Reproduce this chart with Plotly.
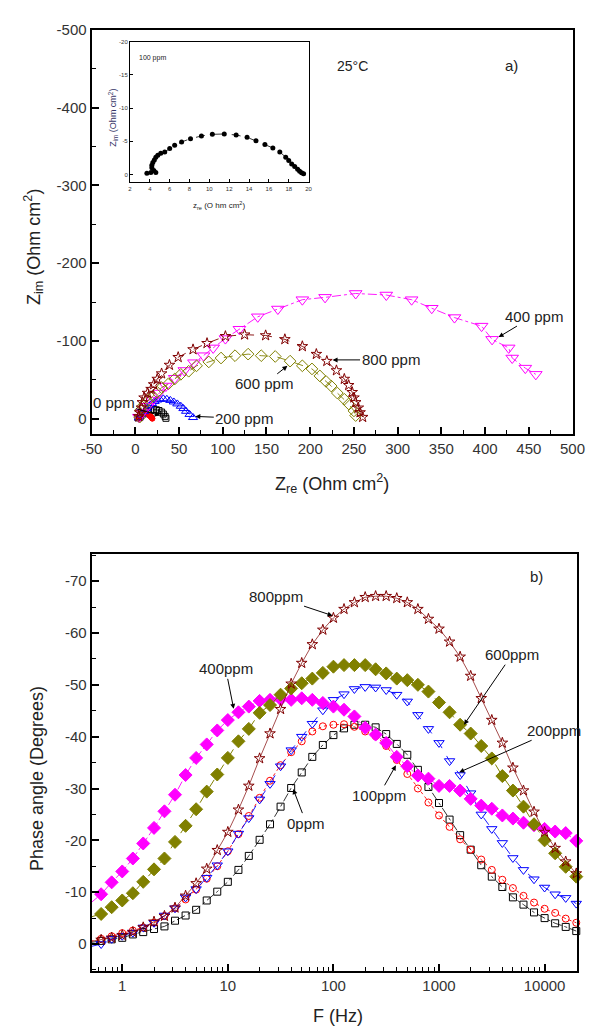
import plotly.graph_objects as go

W, H = 598, 1028

# ---------------- Top chart (Nyquist) data ----------------
ppm0_re = [3, 6, 9, 12, 15, 18, 21, 24, 27, 30, 32, 34, 35]
ppm0_im = [-1, -4, -6.5, -8.5, -10, -11, -11.5, -11.5, -10.5, -8.5, -6, -3, -0.5]

ppm100_re = [3.7, 4.1, 4.6, 4.4, 4.2, 4.2, 4.3, 4.45, 4.6, 4.8, 5.1, 5.5, 6.0, 6.5, 7.2, 8.1,
             9.2, 10.3, 11.5, 12.7, 13.8, 14.7, 15.6, 16.4, 17.1, 17.7, 18.0, 18.3, 18.6,
             18.9, 19.1, 19.3, 19.5]
ppm100_im = [-0.2, -0.3, -0.3, -0.6, -1.0, -1.4, -1.8, -2.2, -2.6, -2.9, -3.2, -3.4, -3.9, -4.4,
             -4.9, -5.4, -5.8, -6.05, -6.1, -5.95, -5.6, -5.1, -4.5, -4.0, -3.4, -2.6, -2.1,
             -1.6, -1.2, -0.8, -0.5, -0.25, -0.1]

ppm200_re = [4, 7, 10, 13, 16, 19, 22, 25, 28, 32, 36, 40, 44, 48, 52, 55, 58, 62, 66]
ppm200_im = [-1, -5, -9, -13, -16.5, -19.5, -22, -24, -25, -25.5, -25, -23.5, -21.5, -19, -16,
             -13, -9.5, -5.5, -1.5]

ppm400_re = [4, 8, 14, 20, 27, 35, 45, 56, 67, 78, 89, 103, 119, 140, 163, 191, 217, 252, 287,
             316, 339, 365, 396, 408, 427, 431, 446, 458]
ppm400_im = [-2, -8, -16, -24, -33, -42, -52, -62, -72, -81, -91, -103, -115, -131, -141, -153,
             -156, -161, -159, -153, -142, -130, -119, -102, -91, -78, -65, -57]

ppm600_re = [5, 6, 9, 14, 20, 25, 30, 38, 45, 52, 61, 70, 84, 98, 114, 129, 144, 160, 177, 191,
             202, 211, 218, 224, 231, 239, 244, 250, 252]
ppm600_im = [-2, -11, -17, -23, -29, -34, -40, -45, -51, -57, -61, -68, -73, -78, -81, -83, -81,
             -80, -74, -68, -64, -55, -48, -42, -33, -25, -19, -10, -4]

ppm800_re = [4, 5, 7, 8, 10, 14, 18, 21, 25, 30, 39, 49, 66, 82, 103, 125, 149, 171, 191, 207,
             219, 230, 239, 244, 248, 250, 252, 255, 257, 260]
ppm800_im = [-3, -8, -14, -21, -27, -33, -38, -44, -51, -58, -69, -79, -89, -97, -106, -108,
             -107, -102, -93, -83, -74, -62, -51, -43, -34, -27, -21, -14, -8, -2]

# tick labels (hyphen minus, as in the reference)
top_x_ticks = [-50, 0, 50, 100, 150, 200, 250, 300, 350, 400, 450, 500]
top_y_ticks = [0, -100, -200, -300, -400, -500]
inset_x_ticks = [2, 4, 6, 8, 10, 12, 14, 16, 18, 20]
inset_y_ticks = [0, -5, -10, -15, -20]

# ---------------- Bottom chart (Bode phase) data ----------------
freq = [0.501, 0.631, 0.794, 1.0, 1.26, 1.58, 2.0, 2.51, 3.16, 3.98, 5.01, 6.31, 7.94, 10.0,
        12.6, 15.8, 20.0, 25.1, 31.6, 39.8, 50.1, 63.1, 79.4, 100.0, 126, 158, 200, 251, 316,
        398, 501, 631, 794, 1000, 1259, 1585, 1995, 2512, 3162, 3981, 5012, 6310, 7943, 10000,
        12589, 15849, 19953]

ph0 = [-0.3, -0.6, -0.9, -1.2, -1.85, -2.3, -2.9, -3.4, -4.5, -5.5, -6.6, -8.4, -10.1, -12.0,
       -14.3, -17.0, -20.1, -23.1, -26.5, -30.1, -33.1, -36.1, -38.4, -40.3, -41.6, -42.3,
       -42.3, -41.8, -40.5, -38.6, -36.5, -33.6, -30.3, -27.2, -24.0, -21.0, -18.2, -15.2,
       -13.0, -11.0, -9.0, -7.6, -6.1, -5.0, -4.0, -3.3, -2.5]
ph100 = [-0.5, -1.0, -1.5, -2.1, -2.6, -3.2, -4.1, -5.4, -6.9, -8.6, -10.5, -12.6, -15.0, -17.9,
         -21.2, -24.7, -28.2, -31.5, -34.5, -37.0, -39.1, -41.0, -42.0, -42.3, -42.4, -41.9,
         -41.0, -40.1, -38.2, -35.5, -32.8, -30.0, -27.3, -24.8, -22.6, -20.2, -18.2, -16.3,
         -14.3, -12.4, -10.8, -9.3, -8.0, -6.8, -6.0, -4.9, -4.1]
ph200 = [0.5, 0.0, -1.0, -1.6, -2.2, -3.2, -4.1, -5.5, -6.9, -9.0, -10.6, -12.8, -15.2, -17.9,
         -21.3, -24.3, -27.9, -30.9, -34.3, -37.4, -40.0, -42.5, -45.1, -47.1, -48.2, -49.2,
         -49.6, -49.5, -49.0, -48.1, -46.8, -44.2, -41.5, -38.8, -35.3, -32.6, -29.1, -25.0,
         -22.2, -19.5, -16.6, -14.3, -12.5, -10.9, -9.6, -8.9, -7.8]
ph400 = [-7.9, -9.6, -11.9, -14.0, -16.5, -19.4, -22.4, -25.6, -28.8, -32.6, -35.9, -38.5,
         -41.2, -43.2, -44.7, -45.8, -46.9, -47.1, -47.2, -47.1, -47.4, -47.1, -46.5, -45.8,
         -45.2, -43.9, -41.7, -40.4, -38.8, -36.1, -34.3, -32.5, -31.9, -30.5, -30.5, -29.6,
         -28.0, -26.7, -26.1, -24.8, -24.2, -23.4, -22.9, -22.2, -21.7, -21.4, -19.9]
ph600 = [-5.2, -5.8, -7.1, -8.4, -9.8, -12.0, -14.4, -16.5, -19.7, -22.8, -26.0, -29.4, -32.7,
         -35.9, -39.1, -41.5, -44.6, -46.1, -48.1, -49.3, -50.3, -51.2, -52.3, -53.5, -53.8,
         -53.8, -53.8, -53.0, -52.2, -51.2, -50.9, -50.0, -48.7, -46.6, -44.7, -42.3, -40.6,
         -38.2, -35.8, -32.4, -29.6, -26.5, -23.1, -20.0, -17.5, -14.9, -13.0]
ph800 = [-0.5, -0.8, -1.2, -1.7, -2.3, -3.2, -4.3, -5.4, -7.0, -9.3, -11.7, -14.5, -18.1, -21.6,
         -25.9, -30.5, -35.8, -40.6, -45.3, -50.2, -54.2, -57.8, -60.6, -62.9, -64.6, -65.9,
         -66.9, -67.1, -67.1, -66.7, -65.9, -64.6, -62.7, -60.8, -58.3, -55.4, -51.7, -47.4,
         -43.2, -38.8, -34.0, -29.6, -25.5, -21.6, -18.5, -15.9, -13.6]

bot_x_ticks = [1, 10, 100, 1000, 10000]
bot_y_ticks = [0, -10, -20, -30, -40, -50, -60, -70]

# ---------------- colours ----------------
C0, C100, C200 = "#000000", "#FF0000", "#0000FF"
C400, C600, C800 = "#FF00FF", "#808000", "#800000"

FONT = "Liberation Sans, Arial, sans-serif"
TICKC = "#333333"

fig = go.Figure()


def px_x(p):
    return p / W


def px_y(p):
    return 1 - p / H


def lab(v):
    return str(v).replace("\u2212", "-")


# ----- top chart traces -----
top = [
    (ppm0_re, ppm0_im, C0, "square-open", 6, "dashdot", 0.8),
    (ppm100_re, ppm100_im, C100, "circle", 5, "dot", 0.8),
    (ppm200_re, ppm200_im, C200, "triangle-up-open", 8, "dash", 0.8),
    (ppm400_re, ppm400_im, C400, "triangle-down-open", 11, "dashdot", 0.9),
    (ppm600_re, ppm600_im, C600, "diamond-open", 9, "dash", 0.9),
    (ppm800_re, ppm800_im, C800, "star-open", 8, "dash", 0.9),
]
for xs, ys, col, sym, sz, dash, lw in top:
    fig.add_trace(go.Scatter(x=xs, y=ys, mode="lines+markers", xaxis="x", yaxis="y",
                             line=dict(color=col, width=lw, dash=dash),
                             marker=dict(symbol=sym, size=sz, color=col,
                                         line=dict(color=col, width=1)),
                             showlegend=False, cliponaxis=False))

# ----- inset -----
fig.add_trace(go.Scatter(x=ppm100_re, y=ppm100_im, mode="lines+markers", xaxis="x2", yaxis="y2",
                         line=dict(color="#000000", width=0.8, dash="dash"),
                         marker=dict(symbol="circle", size=5, color="#000000"),
                         showlegend=False, cliponaxis=False))

# ----- bottom chart -----
bottom = [
    (ph0, C0, "square-open", 7, "dashdot", 0.8),
    (ph100, C100, "circle-open", 7, "dot", 0.9),
    (ph200, C200, "triangle-down-open", 9, "dash", 0.9),
    (ph400, C400, "diamond", 10, "dashdot", 0.9),
    (ph600, C600, "diamond", 10, "dash", 1.0),
    (ph800, C800, "star-open", 8, "solid", 0.7),
]
for ys, col, sym, sz, dash, lw in bottom:
    fig.add_trace(go.Scatter(x=freq, y=ys, mode="lines+markers", xaxis="x3", yaxis="y3",
                             line=dict(color=col, width=lw, dash=dash),
                             marker=dict(symbol=sym, size=sz, color=col,
                                         line=dict(color=col, width=1)),
                             showlegend=False, cliponaxis=False))

axis_common = dict(showline=True, linecolor="black", linewidth=2, mirror=True,
                   ticks="inside", tickcolor="black", tickwidth=1.5, ticklen=7,
                   showgrid=False, zeroline=False,
                   tickfont=dict(family=FONT, size=15, color=TICKC))

log_minor = [m * 10 ** e for e in range(-1, 5) for m in range(2, 10)]

fig.update_layout(
    width=W, height=H, margin=dict(l=0, r=0, t=0, b=0),
    paper_bgcolor="white", plot_bgcolor="white",
    font=dict(family=FONT, color="#222222"),
    xaxis=dict(domain=[px_x(84), px_x(585)], anchor="y", range=[-50, 500],
               tickmode="array", tickvals=top_x_ticks, ticktext=[lab(v) for v in top_x_ticks],
               minor=dict(ticks="inside", ticklen=4, tickmode="linear", tick0=0, dtick=25,
                          tickcolor="black", tickwidth=1.2),
               **axis_common),
    yaxis=dict(domain=[px_y(429), px_y(21)], anchor="x", range=[20, -500],
               tickmode="array", tickvals=top_y_ticks, ticktext=[lab(v) for v in top_y_ticks],
               minor=dict(ticks="inside", ticklen=4, tickmode="linear", tick0=0, dtick=50,
                          tickcolor="black", tickwidth=1.2),
               **axis_common),
    xaxis2=dict(domain=[px_x(124), px_x(310)], anchor="y2", range=[2, 20],
                tickmode="array", tickvals=inset_x_ticks,
                ticktext=[lab(v) for v in inset_x_ticks],
                showline=True, linecolor="black", linewidth=1.2, mirror=True,
                ticks="inside", ticklen=3, tickcolor="black", showgrid=False, zeroline=False,
                tickfont=dict(family=FONT, size=6, color=TICKC)),
    yaxis2=dict(domain=[px_y(175), px_y(33)], anchor="x2", range=[1.2, -20],
                tickmode="array", tickvals=inset_y_ticks,
                ticktext=[lab(v) for v in inset_y_ticks],
                showline=True, linecolor="black", linewidth=1.2, mirror=True,
                ticks="inside", ticklen=3, tickcolor="black", showgrid=False, zeroline=False,
                tickfont=dict(family=FONT, size=6, color=TICKC)),
    xaxis3=dict(domain=[px_x(84), px_x(590)], anchor="y3", type="log", range=[-0.29, 4.31],
                tickmode="array", tickvals=bot_x_ticks, ticktext=[lab(v) for v in bot_x_ticks],
                minor=dict(ticks="inside", ticklen=4, tickmode="array", tickvals=log_minor,
                           tickcolor="black", tickwidth=1.2),
                **axis_common),
    yaxis3=dict(domain=[px_y(971), px_y(550)], anchor="x3", range=[5.3, -75.2],
                tickmode="array", tickvals=bot_y_ticks, ticktext=[lab(v) for v in bot_y_ticks],
                minor=dict(ticks="inside", ticklen=4, tickmode="linear", tick0=0, dtick=5,
                           tickcolor="black", tickwidth=1.2),
                **axis_common),
)

anns = []


def text_ann(txt, x, y, size, angle=0, color="#222222"):
    anns.append(dict(text=txt, x=px_x(x), y=px_y(y), xref="paper", yref="paper",
                     showarrow=False, textangle=angle, xanchor="center", yanchor="middle",
                     font=dict(family=FONT, size=size, color=color)))


def arrow_ann(txt, tx, ty, hx, hy, size=15):
    anns.append(dict(text=txt, x=px_x(hx), y=px_y(hy), xref="paper", yref="paper",
                     ax=tx - hx, ay=ty - hy, axref="pixel", ayref="pixel",
                     showarrow=True, arrowhead=2, arrowsize=1, arrowwidth=1,
                     arrowcolor="black", standoff=0,
                     font=dict(family=FONT, size=size, color="#222222")))


# axis titles
text_ann("Z<sub>re</sub> (Ohm cm<sup>2</sup>)", 334, 479, 18)
text_ann("Z<sub>im</sub> (Ohm cm<sup>2</sup>)", 24, 240, 18, angle=-90)
text_ann("F (Hz)", 341, 1016, 18)
text_ann("Phase angle (Degrees)", 27, 776, 18, angle=-90)

# inset titles
text_ann("Z<sub>im</sub> (Ohm cm<sup>2</sup>)", 106, 110, 9, angle=-90, color="#333366")
text_ann("z<sub>re</sub> (O hm cm<sup>2</sup>)", 217, 198, 8)
text_ann("100 ppm", 147, 49, 7)

# panel labels
text_ann("25\u00b0C", 356, 57, 14)
text_ann("a)", 521, 57, 15)
text_ann("b)", 547, 573, 15)

# top arrows
arrow_ann("400 ppm", 543, 310, 508, 331)
arrow_ann("800 ppm", 393, 354, 335, 354)
arrow_ann("600 ppm", 265, 378, 288, 360)
arrow_ann("200 ppm", 241, 413, 192, 411)
arrow_ann("0 ppm", 109, 397, 155, 410)

# bottom arrows
arrow_ann("800ppm", 278, 593, 335, 612)
arrow_ann("400ppm", 224, 666, 232, 706)
arrow_ann("600ppm", 520, 652, 472, 722)
arrow_ann("200ppm", 562, 728, 467, 770)
arrow_ann("100ppm", 384, 793, 401, 763)
arrow_ann("0ppm", 307, 821, 294, 787)

fig.update_layout(annotations=anns)
fig.write_html("out.html")
